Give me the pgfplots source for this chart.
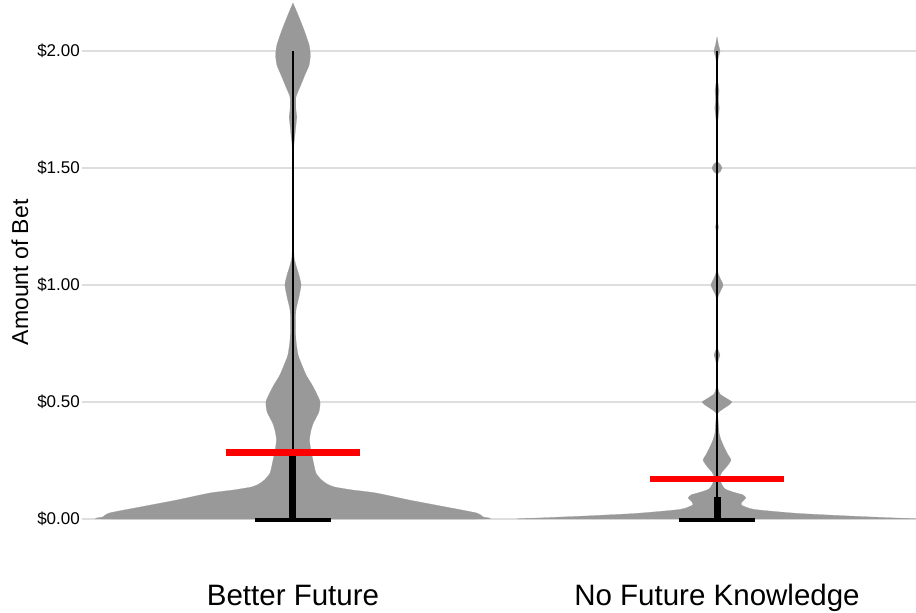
\documentclass[border=0pt]{standalone}
\usepackage{pgfplots}
\usepackage{pgfplotstable}
\pgfplotsset{compat=1.18}
\usepackage{fontspec}
\setmainfont{Liberation Sans}

\definecolor{violin}{RGB}{153,153,153}
\definecolor{gridgray}{RGB}{222,222,222}

% violin outlines: y = amount of bet, w = half width (x units)
% first row sits on the centre line so that each filled half closes along it
\pgfplotstableread{
y w
0.000 0.000
0.000 0.446
0.009 0.448
0.026 0.432
0.051 0.361
0.081 0.274
0.111 0.196
0.124 0.140
0.137 0.097
0.150 0.080
0.167 0.067
0.197 0.054
0.252 0.047
0.295 0.042
0.338 0.039
0.375 0.042
0.410 0.048
0.457 0.061
0.500 0.064
0.538 0.055
0.573 0.045
0.615 0.031
0.658 0.021
0.701 0.012
0.765 0.007
0.829 0.006
0.893 0.007
0.949 0.014
1.000 0.019
1.043 0.014
1.098 0.005
1.150 0.002
1.577 0.002
1.620 0.0035
1.684 0.007
1.718 0.009
1.748 0.007
1.803 0.007
1.846 0.0165
1.897 0.028
1.940 0.038
1.983 0.041
2.026 0.038
2.090 0.026
2.154 0.012
2.205 0.000
}\betterfuture

\pgfplotstableread{
y w
0.000 0.000
0.000 0.448
0.002 0.448
0.013 0.307
0.024 0.189
0.041 0.087
0.060 0.057
0.077 0.061
0.090 0.068
0.103 0.061
0.115 0.038
0.128 0.019
0.145 0.012
0.162 0.008
0.179 0.006
0.201 0.012
0.226 0.024
0.252 0.033
0.274 0.026
0.308 0.0165
0.338 0.0094
0.368 0.0047
0.393 0.004
0.423 0.0024
0.453 0.0024
0.470 0.014
0.487 0.028
0.500 0.035
0.517 0.021
0.534 0.007
0.560 0.002
0.658 0.0012
0.688 0.0047
0.701 0.0071
0.718 0.0035
0.744 0.0012
0.936 0.0014
0.970 0.0071
1.000 0.0142
1.030 0.0071
1.064 0.0014
1.218 0.0012
1.248 0.0035
1.278 0.0012
1.466 0.0014
1.483 0.0071
1.500 0.0118
1.517 0.0071
1.534 0.0012
1.684 0.0012
1.726 0.0035
1.756 0.0052
1.791 0.0035
1.833 0.0047
1.876 0.0014
1.940 0.0014
1.970 0.0028
2.000 0.0071
2.026 0.0035
2.060 0.000
}\nofuture

\begin{document}
\begin{tikzpicture}
\begin{axis}[
    scale only axis,
    width=834bp, height=544.7bp,
    xmin=0.5024, xmax=2.4693,
    ymin=-0.11, ymax=2.218,
    axis line style={draw=none},
    tick style={draw=none},
    ymajorgrids,
    grid style={gridgray, line width=1.2bp},
    xtick={1,2},
    xticklabels={Better Future, No Future Knowledge},
    ytick={0,0.5,1,1.5,2},
    yticklabels={\$0.00,\$0.50,\$1.00,\$1.50,\$2.00},
    yticklabel style={font=\fontsize{17bp}{20bp}\selectfont, anchor=east, inner sep=0pt, xshift=-2bp},
    xticklabel style={font=\fontsize{29.5bp}{34bp}\selectfont, anchor=base, inner sep=0pt, yshift=-61bp},
    ylabel={Amount of Bet},
    ylabel style={font=\fontsize{23bp}{27bp}\selectfont, at={(axis description cs:0,0.5)}, anchor=center, yshift=62bp},
    clip=false,
    violinhalf/.style={fill=violin, draw=violin, line width=0.2bp, smooth, tension=0.35, line join=round},
]
\coordinate (SW) at (rel axis cs:0,0);
\coordinate (NE) at (rel axis cs:1,1);

% Better Future violin (two mirrored halves)
\addplot[violinhalf] table[x expr=1+\thisrow{w}, y=y]{\betterfuture};
\addplot[violinhalf] table[x expr=1-\thisrow{w}, y=y]{\betterfuture};

% No Future Knowledge violin
\addplot[violinhalf] table[x expr=2+\thisrow{w}, y=y]{\nofuture};
\addplot[violinhalf] table[x expr=2-\thisrow{w}, y=y]{\nofuture};

% whiskers, boxes, medians
\addplot[black, line width=1.4bp] coordinates {(1,0.269) (1,2.0)};
\addplot[black, line width=7bp] coordinates {(1,0) (1,0.269)};
\addplot[black, line width=3.3bp] coordinates {(0.91,-0.004) (1.09,-0.004)};
\addplot[black, line width=1.6bp] coordinates {(2,0.094) (2,2.0)};
\addplot[black, line width=7bp] coordinates {(2,0) (2,0.094)};
\addplot[black, line width=3.3bp] coordinates {(1.91,-0.004) (2.09,-0.004)};

% means
\addplot[red, line width=6.5bp] coordinates {(0.843,0.284) (1.157,0.284)};
\addplot[red, line width=6.5bp] coordinates {(1.842,0.171) (2.158,0.171)};
\end{axis}
\pgfresetboundingbox
\path[use as bounding box] (SW) ++(-82bp,-68.3bp) rectangle (NE);
\end{tikzpicture}
\end{document}
